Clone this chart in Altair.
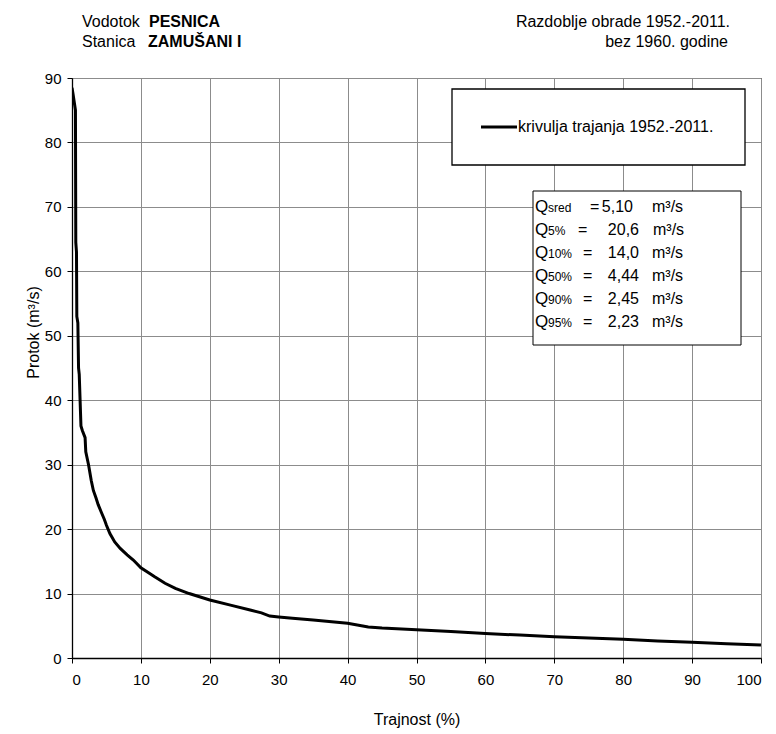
import altair as alt
import pandas as pd

FONT = "Liberation Sans"

# Flow duration curve (Trajnost % vs Protok m3/s)
trajnost = [0, 0.15, 0.5, 0.55, 0.65, 0.7, 0.85, 0.95, 1.05, 1.3, 1.5, 1.9, 2.0, 2.4,
            2.8, 3.1, 3.5, 3.8, 4.3, 4.7, 5.0, 5.5, 6.2, 7.0, 8.0, 8.9, 10.0, 11.0,
            12.0, 13.5, 15.0, 17.0, 20.0, 23.0, 26.0, 27.5, 28.7, 30.0, 32.0, 35.0,
            40.0, 43.0, 45.0, 50.0, 55.0, 60.0, 65.0, 70.0, 75.0, 80.0, 85.0, 90.0,
            95.0, 100.0]
protok = [88.5, 87.5, 85.0, 64.5, 63.0, 53.0, 52.0, 45.0, 44.0, 36.0, 35.3, 34.2, 32.0,
          30.0, 27.5, 26.0, 24.8, 23.8, 22.5, 21.5, 20.6, 19.3, 18.0, 17.0, 16.0, 15.2,
          14.0, 13.3, 12.6, 11.6, 10.8, 10.0, 9.0, 8.2, 7.4, 7.0, 6.5, 6.35, 6.15, 5.9,
          5.4, 4.8, 4.65, 4.4, 4.1, 3.8, 3.55, 3.3, 3.1, 2.9, 2.65, 2.45, 2.23, 2.0]

x_ticks = list(range(0, 101, 10))
y_ticks = list(range(0, 91, 10))

stat_subs = ["sred", "5%", "10%", "50%", "90%", "95%"]
stat_vals = ["5,10", "20,6", "14,0", "4,44", "2,45", "2,23"]
legend_label = "krivulja trajanja 1952.-2011."

df = pd.DataFrame({"Trajnost": trajnost, "Protok": protok})

W, H = 689, 580

base = alt.Chart(df)

curve = base.mark_line(color="black", strokeWidth=3, clip=True).encode(
    x=alt.X("Trajnost:Q", scale=alt.Scale(domain=[0, 100], nice=False),
            axis=alt.Axis(values=x_ticks, title="Trajnost (%)", titleY=61,
                          titleBaseline="middle", labelPadding=9)),
    y=alt.Y("Protok:Q", scale=alt.Scale(domain=[0, 90], nice=False),
            axis=alt.Axis(values=y_ticks, title="Protok (m³/s)", titleX=-39,
                          titleY=254, titleAlign="center", titleBaseline="middle",
                          labelPadding=6)),
)


def one():
    return alt.Data(values=[{"k": 1}])


def label(text, x, y, size=16, weight="normal", align="left", baseline="alphabetic"):
    return alt.Chart(alt.Data(values=[{"t": text}])).mark_text(
        align=align, baseline=baseline, font=FONT, fontSize=size,
        fontWeight=weight, color="black"
    ).encode(x=alt.value(x), y=alt.value(y), text="t:N")


def box(x1, x2, y1, y2, sw=1):
    return alt.Chart(one()).mark_rect(fill="white", stroke="black", strokeWidth=sw).encode(
        x=alt.value(x1), x2=alt.value(x2), y=alt.value(y1), y2=alt.value(y2))


layers = [curve]

# header
layers += [
    label("Vodotok", 10, -51),
    label("PESNICA", 77, -51, weight="bold"),
    label("Stanica", 10, -31),
    label("ZAMUŠANI I", 76, -31, weight="bold"),
    label("Razdoblje obrade 1952.-2011.", 658, -51, align="right"),
    label("bez 1960. godine", 656, -31, align="right"),
]

# legend
layers.append(box(380, 673, 11, 87, sw=1.3))
layers.append(alt.Chart(one()).mark_rule(color="black", strokeWidth=3).encode(
    x=alt.value(409), x2=alt.value(445), y=alt.value(49)))
layers.append(label(legend_label, 446, 49, baseline="middle"))

# statistics box
layers.append(box(461, 669, 113, 267))
eq_x = [518, 506, 511, 511, 511, 511]
val_x = [561, 567, 567, 567, 567, 567]
unit_x = [580, 581, 580, 580, 580, 580]
for i, (s, v) in enumerate(zip(stat_subs, stat_vals)):
    yy = 134 + 23 * i
    layers += [
        label("Q", 463, yy, size=17),
        label(s, 476, yy, size=12),
        label("=", eq_x[i], yy, size=16),
        label(v, val_x[i], yy, size=16, align="right"),
        label("m³/s", unit_x[i], yy, size=16),
    ]

chart = alt.layer(*layers).properties(
    width=W, height=H,
    autosize=alt.AutoSizeParams(type="none"),
    padding={"left": 72, "top": 78, "right": 15, "bottom": 76},
).configure_view(
    stroke="black", strokeWidth=1
).configure_axis(
    grid=True, gridColor="#8c8c8c", gridWidth=1,
    domainColor="black", domainWidth=1.3, tickColor="black", tickSize=5,
    labelFont=FONT, labelFontSize=15, labelColor="black",
    titleFont=FONT, titleFontSize=16, titleFontWeight="normal", titleColor="black",
)

chart.save("out.html", embed_options={"renderer": "svg", "actions": False})
